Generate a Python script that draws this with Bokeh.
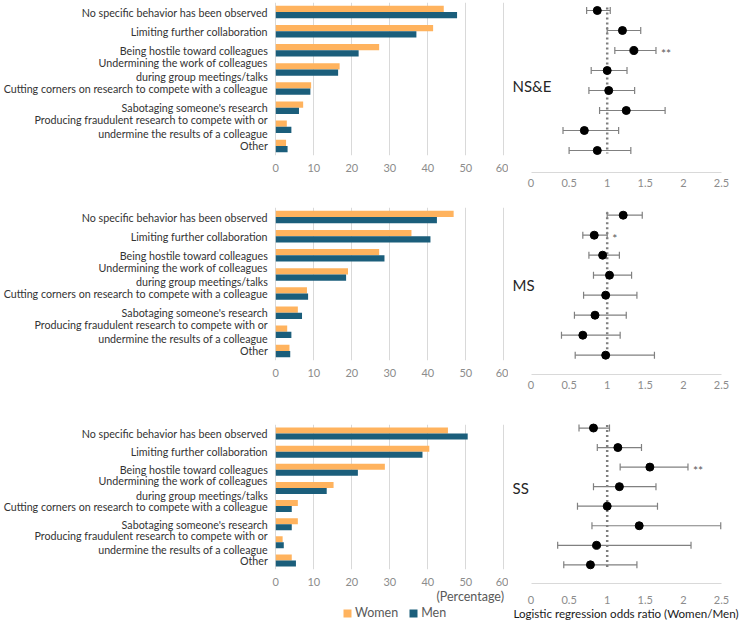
import math
from bokeh.plotting import figure
from bokeh.layouts import column, row
from bokeh.models import (ColumnDataSource, Range1d, FixedTicker, Title,
                          Legend, LegendItem)
from bokeh.transform import dodge
from bokeh.core.properties import value
from bokeh.embed import file_html
from bokeh.resources import INLINE

# ---------------- data ----------------
behaviors = [
    "No specific behavior has been observed",
    "Limiting further collaboration",
    "Being hostile toward colleagues",
    "Undermining the work of colleagues\nduring group meetings/talks",
    "Cutting corners on research to compete with a colleague",
    "Sabotaging someone's research",
    "Producing fraudulent research to compete with or\nundermine the results of a colleague",
    "Other",
]
fields = ["NS&E", "MS", "SS"]
series_names = ["Women", "Men"]

nse_women = [44.2, 41.4, 27.2, 16.8, 9.3, 7.2, 2.9, 2.7]
nse_men = [47.7, 37.0, 21.8, 16.4, 9.1, 6.1, 4.1, 3.1]
ms_women = [46.8, 35.7, 27.2, 19.0, 8.2, 5.8, 3.0, 3.6]
ms_men = [42.4, 40.7, 28.6, 18.5, 8.5, 6.9, 4.1, 3.8]
ss_women = [45.3, 40.4, 28.7, 15.2, 5.8, 5.8, 1.8, 4.2]
ss_men = [50.5, 38.6, 21.6, 13.4, 4.2, 4.2, 2.1, 5.3]

nse_or = [0.87, 1.20, 1.35, 1.00, 1.02, 1.25, 0.70, 0.87]
nse_lo = [0.73, 1.00, 1.10, 0.79, 0.76, 0.90, 0.42, 0.50]
nse_hi = [1.04, 1.44, 1.64, 1.26, 1.36, 1.76, 1.15, 1.31]
nse_sig = ["", "", "**", "", "", "", "", ""]

ms_or = [1.21, 0.83, 0.94, 1.03, 0.98, 0.84, 0.68, 0.98]
ms_lo = [1.00, 0.68, 0.76, 0.82, 0.69, 0.57, 0.40, 0.58]
ms_hi = [1.46, 1.00, 1.16, 1.32, 1.39, 1.25, 1.17, 1.62]
ms_sig = ["", "*", "", "", "", "", "", ""]

ss_or = [0.82, 1.14, 1.56, 1.16, 1.00, 1.42, 0.86, 0.78]
ss_lo = [0.63, 0.87, 1.17, 0.82, 0.61, 0.80, 0.35, 0.43]
ss_hi = [1.03, 1.45, 2.06, 1.64, 1.66, 2.49, 2.10, 1.39]
ss_sig = ["", "", "**", "", "", "", "", ""]

pct_ticks = [0, 10, 20, 30, 40, 50, 60]
or_ticks = [0, 0.5, 1, 1.5, 2, 2.5]
or_reference = 1
pct_axis_label = "(Percentage)"
or_axis_label = "Logistic regression odds ratio (Women/Men)"

# ---------------- style ----------------
FONT = "Lato"
WOMEN_C = "#FFB35E"
MEN_C = "#1B5E7B"
GRID_C = "#d9d9d9"
TICK_C = "#8c8c8c"
LABEL_C = "#333333"
ERR_C = "#808080"

BAR_W = 508
FOR_W = 235
PX_PER_PCT = 3.8
PCT0 = 275.3        # pixel of 0 % inside bar frame
PX_PER_OR = 76.2
OR0 = 22.5          # pixel of OR 0 inside forest frame
STRIP_H = 17

rows_cfg = [
    dict(h=205, bh=205, b_top=2, bar_frame=153, f_top=10.0, f_pitch=20.0, f_axis=172,
         b_stand=2, f_stand=0, lab=3.75),
    dict(h=213, bh=213, b_top=2, bar_frame=153, f_top=9.7, f_pitch=20.0, f_axis=169,
         b_stand=2, f_stand=0, lab=3.47),
    dict(h=204, bh=204 - STRIP_H, b_top=6, bar_frame=150, f_top=9.7, f_pitch=19.9,
         f_axis=168, b_stand=2, f_stand=6, lab=3.07),
]

data = [
    (nse_women, nse_men, nse_or, nse_lo, nse_hi, nse_sig),
    (ms_women, ms_men, ms_or, ms_lo, ms_hi, ms_sig),
    (ss_women, ss_men, ss_or, ss_lo, ss_hi, ss_sig),
]


def no_align(p):
    if "frame_align" in p.properties():
        p.frame_align = False
    p.outline_line_color = None
    p.background_fill_color = "white"
    p.border_fill_color = "white"


def add_bars(p, src, bar_h=0.33):
    rw = p.hbar(y=dodge("idx", -0.165), right="women", left=0, height=bar_h,
                source=src, fill_color=WOMEN_C, line_color=None)
    rm = p.hbar(y=dodge("idx", 0.165), right="men", left=0, height=bar_h,
                source=src, fill_color=MEN_C, line_color=None)
    return rw, rm


n = len(behaviors)
rows = []
for k, (field, cfg, (w, m, orv, lo, hi, sig)) in enumerate(zip(fields, rows_cfg, data)):
    last = k == len(fields) - 1
    # ---------- bar chart ----------
    x0 = -PCT0 / PX_PER_PCT
    x1 = (BAR_W - PCT0) / PX_PER_PCT
    b = figure(width=BAR_W, height=cfg["bh"], output_backend="svg",
               toolbar_location=None, y_axis_location=None,
               x_range=Range1d(x0, x1), y_range=Range1d(n - 0.5, -0.5),
               min_border_left=0, min_border_right=0, min_border_top=cfg["b_top"],
               min_border_bottom=cfg["bh"] - cfg["bar_frame"] - cfg["b_top"])
    no_align(b)
    src = ColumnDataSource(dict(idx=list(range(n)), label=behaviors, women=w, men=m))
    add_bars(b, src)
    b.text(x=0, y="idx", text="label", source=src, x_offset=-8,
           text_align="right", text_baseline="middle",
           text_font=value(FONT), text_font_size="10.7px", text_color=LABEL_C,
           text_line_height=1.1)
    b.xaxis.ticker = FixedTicker(ticks=pct_ticks)
    b.xaxis.axis_line_color = None
    b.xaxis.major_tick_line_color = None
    b.xaxis.minor_tick_line_color = None
    b.xaxis.major_label_standoff = cfg["b_stand"]
    b.xaxis.major_label_text_font = FONT
    b.xaxis.major_label_text_font_size = "11px"
    b.xaxis.major_label_text_color = TICK_C
    b.xgrid.ticker = FixedTicker(ticks=pct_ticks)
    b.xgrid.grid_line_color = GRID_C
    b.ygrid.visible = False
    left_part = b
    if last:
        b.add_layout(Title(text=pct_axis_label, align="left", offset=436,
                           standoff=0, vertical_align="top",
                           text_font=FONT, text_font_size="12.5px",
                           text_font_style="normal", text_color="#595959"),
                     "below")
        # legend strip under the last bar chart (zero-height bars: legend only)
        s = figure(width=BAR_W, height=STRIP_H, output_backend="svg",
                   toolbar_location=None, x_axis_location=None, y_axis_location=None,
                   x_range=Range1d(x0, x1), y_range=Range1d(n - 0.5, -0.5),
                   min_border_left=0, min_border_right=0, min_border_top=0,
                   min_border_bottom=0)
        no_align(s)
        s.grid.visible = False
        lw, lm = add_bars(s, src, bar_h=0)
        leg = Legend(items=[LegendItem(label=series_names[0], renderers=[lw]),
                            LegendItem(label=series_names[1], renderers=[lm])],
                     orientation="horizontal", location=(342, 2),
                     background_fill_alpha=0, border_line_alpha=0,
                     padding=0, margin=0, spacing=10,
                     glyph_width=10, glyph_height=10, label_standoff=3,
                     label_text_font=FONT, label_text_font_size="12.5px",
                     label_text_color="#595959", label_height=13)
        s.add_layout(leg)
        left_part = column(b, s)

    # ---------- forest plot ----------
    fx0 = -OR0 / PX_PER_OR
    fx1 = (FOR_W - OR0) / PX_PER_OR
    y_top = -cfg["f_top"] / cfg["f_pitch"]
    y_bot = (cfg["f_axis"] - cfg["f_top"]) / cfg["f_pitch"]
    f = figure(width=FOR_W, height=cfg["h"], output_backend="svg",
               toolbar_location=None, y_axis_location=None,
               x_range=Range1d(fx0, fx1), y_range=Range1d(y_bot, y_top),
               min_border_left=0, min_border_right=0, min_border_top=0,
               min_border_bottom=cfg["h"] - cfg["f_axis"])
    no_align(f)
    f.grid.visible = False
    fs = ColumnDataSource(dict(idx=list(range(n)), orv=orv, lo=lo, hi=hi, sig=sig))
    f.segment(x0=or_reference, y0=-0.15, x1=or_reference, y1=n - 1 + 0.15,
              line_color="#7f7f7f", line_width=2.5, line_dash="2 3")
    f.segment(x0="lo", y0="idx", x1="hi", y1="idx", source=fs,
              line_color=ERR_C, line_width=1.2)
    for col in ("lo", "hi"):
        f.scatter(x=col, y="idx", source=fs, marker="dash", angle=math.pi / 2,
                  size=7, line_color=ERR_C, line_width=1.2)
    f.scatter(x="orv", y="idx", source=fs, size=8, fill_color="black",
              line_color="black")
    f.text(x="hi", y="idx", text="sig", source=fs, x_offset=5, y_offset=3,
           text_align="left", text_baseline="middle", text_font=value(FONT),
           text_font_size="12px", text_color="#595959")
    f.text(x=[fx0], y=[cfg["lab"]], text=[field], x_offset=4,
           text_align="left", text_baseline="middle", text_font=value(FONT),
           text_font_size="15px", text_color="#262626")
    f.xaxis.ticker = FixedTicker(ticks=or_ticks)
    f.xaxis.bounds = (or_ticks[0], or_ticks[-1])
    f.xaxis.axis_line_color = GRID_C
    f.xaxis.major_tick_line_color = None
    f.xaxis.minor_tick_line_color = None
    f.xaxis.major_label_standoff = cfg["f_stand"]
    f.xaxis.major_label_text_font = FONT
    f.xaxis.major_label_text_font_size = "11px"
    f.xaxis.major_label_text_color = TICK_C
    if last:
        f.xaxis.axis_label = or_axis_label
        f.xaxis.axis_label_standoff = 0
        f.xaxis.axis_label_text_font = FONT
        f.xaxis.axis_label_text_font_size = "11.6px"
        f.xaxis.axis_label_text_font_style = "normal"
        f.xaxis.axis_label_text_color = "#1a1a1a"
    rows.append(row(left_part, f))

layout = column(*rows)
open("out.html", "w").write(file_html(layout, INLINE))
